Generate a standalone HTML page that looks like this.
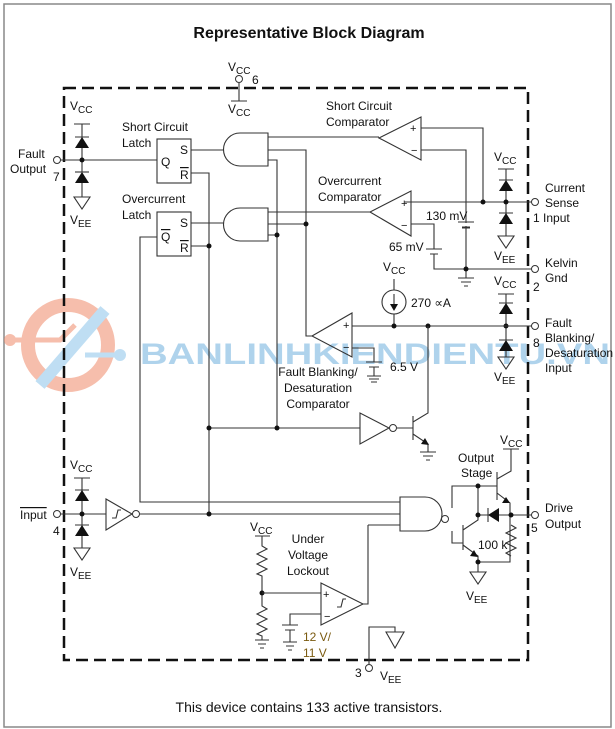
<!DOCTYPE html>
<html><head><meta charset="utf-8"><style>
html,body{margin:0;padding:0;background:#fff;}
svg{display:block;}
text{font-family:"Liberation Sans",sans-serif;font-size:12px;fill:#111;}
.w{stroke:#333;stroke-width:1.1;fill:none;}
.d{fill:#111;}
</style></head><body>
<svg width="615" height="729" viewBox="0 0 615 729" xmlns="http://www.w3.org/2000/svg">
<rect x="4" y="4" width="607" height="723" fill="#fff" stroke="#888" stroke-width="1.5"/>
<text x="309" y="38" text-anchor="middle" style="font-size:16px;font-weight:bold">Representative Block Diagram</text>

<!-- watermark -->
<g opacity="0.55">
<circle cx="68" cy="345" r="40" fill="none" stroke="#f08a6a" stroke-width="14"/>
<path d="M40 385 L105 310" stroke="#8cc4ea" stroke-width="12"/>
<path d="M10 340 H60 L75 325" stroke="#f08a6a" stroke-width="5" fill="none"/>
<circle cx="10" cy="340" r="6" fill="#f08a6a"/>
<path d="M85 355 H120" stroke="#8cc4ea" stroke-width="5"/>
<circle cx="120" cy="355" r="6" fill="#8cc4ea"/>
<text x="140" y="364" textLength="470" lengthAdjust="spacingAndGlyphs" style="font-size:30px;font-weight:bold;fill:#6fb0de">BANLINHKIENDIENTU.VN</text>
</g>

<!-- dashed box -->
<rect x="64" y="88" width="464" height="572" fill="none" stroke="#111" stroke-width="2.5" stroke-dasharray="12,6"/>

<!-- pin 6 -->
<text x="228" y="71">V<tspan dy="3" style="font-size:10px">CC</tspan></text>
<circle cx="239" cy="79" r="3.5" fill="#fff" stroke="#333"/>
<text x="252" y="84">6</text>
<path class="w" d="M239 83 V101 M231 101 H247"/>
<text x="228" y="113">V<tspan dy="3" style="font-size:10px">CC</tspan></text>

<!-- Fault output pin 7 -->
<text x="18" y="158">Fault</text><text x="10" y="173">Output</text><text x="53" y="181">7</text>
<circle cx="57" cy="160" r="3.5" fill="#fff" stroke="#333"/>
<text x="70" y="110">V<tspan dy="3" style="font-size:10px">CC</tspan></text>
<path class="w" d="M74 124 H90 M82 124 V172 M60 160 H157 M82 182 V197 M75 137 H89"/>
<path class="d" d="M82 137 L75 148 H89 Z"/>
<path class="w" d="M75 172 H89"/><path class="d" d="M82 172 L75 183 H89 Z"/>
<path class="w" d="M74 197 H90 L82 209 Z"/>
<circle class="d" cx="82" cy="160" r="2.5"/>
<text x="70" y="224">V<tspan dy="3" style="font-size:10px">EE</tspan></text>

<!-- latches -->
<text x="122" y="131">Short Circuit</text><text x="122" y="147">Latch</text>
<rect class="w" x="157" y="139" width="34" height="44"/>
<text x="180" y="154">S</text><text x="161" y="166">Q</text><text x="180" y="179" style="text-decoration:overline">R</text>
<text x="122" y="203">Overcurrent</text><text x="122" y="219">Latch</text>
<rect class="w" x="157" y="212" width="34" height="44"/>
<text x="180" y="227">S</text><text x="161" y="241" style="text-decoration:overline">Q</text><text x="180" y="252" style="text-decoration:overline">R</text>

<!-- AND gates -->
<path class="w" d="M240 133 H268 V166 H240 A16.5 16.5 0 0 1 240 133 Z"/>
<path class="w" d="M240 208 H268 V241 H240 A16.5 16.5 0 0 1 240 208 Z"/>
<path class="w" d="M191 150 H224 M191 223 H224"/>
<path class="w" d="M191 173 H209 V514 M191 246 H209"/>
<circle class="d" cx="209" cy="246" r="2.5"/>
<path class="w" d="M157 237 H140 V502 H400"/>
<path class="w" d="M268 137 H379 M268 150 H306 V336 H312 M268 160 H277 V428"/>
<path class="w" d="M268 212 H370 M268 224 H306 M268 235 H277"/>
<circle class="d" cx="306" cy="224" r="2.5"/><circle class="d" cx="277" cy="235" r="2.5"/>

<!-- SC comparator -->
<text x="326" y="110">Short Circuit</text><text x="326" y="126">Comparator</text>
<path class="w" d="M421 117 V160 L379 138 Z"/>
<text x="410" y="132" style="font-size:11px">+</text><text x="411" y="154" style="font-size:11px">−</text>
<path class="w" d="M421 128 H483 V202 M421 150 H466 V269"/>
<!-- OC comparator -->
<text x="318" y="185">Overcurrent</text><text x="318" y="201">Comparator</text>
<path class="w" d="M411 191 V236 L370 212 Z"/>
<text x="401" y="207" style="font-size:11px">+</text><text x="401" y="229" style="font-size:11px">−</text>
<path class="w" d="M404 202 H532 M411 224 H434 V249 M426 249 H442 M430 254 H438 M434 254 V269 H532"/>
<path class="w" d="M459 222 H473 M462 227 H470" fill="#fff"/>
<rect x="458" y="223" width="16" height="3" fill="#fff"/>
<path class="w" d="M458 222 H474 M462 228 H470"/>
<text x="426" y="220">130 mV</text><text x="389" y="251">65 mV</text>
<path class="w" d="M466 269 V278 M458 278 H474 M461 282 H471 M464 286 H468"/>
<circle class="d" cx="483" cy="202" r="2.5"/><circle class="d" cx="466" cy="269" r="2.5"/>

<!-- current sense diodes -->
<text x="494" y="161">V<tspan dy="3" style="font-size:10px">CC</tspan></text>
<path class="w" d="M498 169 H514 M506 169 V236 M499 180 H513 M499 213 H513 M498 236 H514 L506 248 Z"/>
<path class="d" d="M506 180 L499 191 H513 Z M506 213 L499 224 H513 Z"/>
<circle class="d" cx="506" cy="202" r="2.5"/>
<text x="494" y="260">V<tspan dy="3" style="font-size:10px">EE</tspan></text>
<circle cx="535" cy="202" r="3.5" fill="#fff" stroke="#333"/>
<text x="545" y="192">Current</text><text x="545" y="207">Sense</text><text x="533" y="222">1 Input</text>
<circle cx="535" cy="269" r="3.5" fill="#fff" stroke="#333"/>
<text x="545" y="267">Kelvin</text><text x="545" y="282">Gnd</text><text x="533" y="291">2</text>

<!-- FB diodes -->
<text x="494" y="285">V<tspan dy="3" style="font-size:10px">CC</tspan></text>
<path class="w" d="M498 294 H514 M506 294 V357 M499 303 H513 M499 340 H513 M498 357 H514 L506 369 Z"/>
<path class="d" d="M506 303 L499 314 H513 Z M506 340 L499 351 H513 Z"/>
<circle class="d" cx="506" cy="326" r="2.5"/>
<text x="494" y="381">V<tspan dy="3" style="font-size:10px">EE</tspan></text>
<circle cx="535" cy="326" r="3.5" fill="#fff" stroke="#333"/>
<text x="545" y="327">Fault</text><text x="545" y="342">Blanking/</text><text x="545" y="357">Desaturation</text><text x="545" y="372">Input</text>
<text x="533" y="347">8</text>

<!-- FB comparator & current source -->
<path class="w" d="M352 313 V357 L312 336 Z"/>
<text x="343" y="329" style="font-size:11px">+</text><text x="343" y="351" style="font-size:11px">−</text>
<path class="w" d="M352 326 H532 M352 348 H374 V362 M366 362 H382 M369 367 H379 M374 367 V376 M367 376 H381 M369 379 H379 M371 382 H377"/>
<text x="390" y="371">6.5 V</text>
<text x="383" y="271">V<tspan dy="3" style="font-size:10px">CC</tspan></text>
<path class="w" d="M394 279 V290 M394 314 V326"/>
<circle class="w" cx="394" cy="302" r="12"/>
<path class="w" d="M394 294 V308"/><path class="d" d="M394 311 L390 304 H398 Z"/>
<text x="411" y="307">270 ∝A</text>
<circle class="d" cx="394" cy="326" r="2.5"/><circle class="d" cx="428" cy="326" r="2.5"/>
<text x="318" y="376" text-anchor="middle">Fault Blanking/</text>
<text x="318" y="392" text-anchor="middle">Desaturation</text>
<text x="318" y="408" text-anchor="middle">Comparator</text>

<!-- inverter + transistor -->
<path class="w" d="M209 428 H360"/>
<circle class="d" cx="209" cy="428" r="2.5"/><circle class="d" cx="277" cy="428" r="2.5"/>
<path class="w" d="M360 413 V444 L389 428 Z"/><circle cx="393" cy="428" r="3.5" fill="#fff" stroke="#333"/>
<path class="w" d="M397 428 H413 M413 416 V440 M413 422 L428 413 V326 M413 434 L428 444 V452 M420 452 H436 M423 456 H433 M426 460 H430"/>
<path class="d" d="M429 445 L421 444 L425 438 Z"/>

<!-- input pin 4 -->
<text x="20" y="519" style="text-decoration:overline">Input</text><text x="53" y="535">4</text>
<circle cx="57" cy="514" r="3.5" fill="#fff" stroke="#333"/>
<text x="70" y="469">V<tspan dy="3" style="font-size:10px">CC</tspan></text>
<path class="w" d="M74 478 H90 M82 478 V548 M75 490 H89 M75 525 H89 M74 548 H90 L82 560 Z M60 514 H106"/>
<path class="d" d="M82 490 L75 501 H89 Z M82 525 L75 536 H89 Z"/>
<circle class="d" cx="82" cy="514" r="2.5"/>
<text x="70" y="576">V<tspan dy="3" style="font-size:10px">EE</tspan></text>
<path class="w" d="M106 499 V530 L132 514 Z"/><circle cx="136" cy="514" r="3.5" fill="#fff" stroke="#333"/>
<path class="w" d="M112 518 H116 L118 510 H121" stroke-width="0.9"/>
<path class="w" d="M140 514 H400"/>
<circle class="d" cx="209" cy="514" r="2.5"/>

<!-- NAND -->
<path class="w" d="M400 497 H425 A17 17 0 0 1 425 531 H400 Z"/>
<circle cx="445" cy="519" r="3.5" fill="#fff" stroke="#333"/>
<path class="w" d="M368 525 H400"/>

<!-- output stage -->
<text x="458" y="462">Output</text><text x="461" y="477">Stage</text>
<text x="500" y="444">V<tspan dy="3" style="font-size:10px">CC</tspan></text>
<path class="w" d="M503 449 H519 M511 449 V471 L497 479 M497 472 V500 M497 493 L510 503 V562 H478 M452 508 V486 H497 M478 486 V520 L463 530 M452 531 V543 H463 M463 525 V550 M463 545 L478 556 V572 M478 515 H511 M511 515 H532"/>
<path class="d" d="M510 503 L502 503 L506 497 Z M478 557 L470 556 L474 550 Z"/>
<path class="w" d="M488 508 V522"/><path class="d" d="M488 515 L499 508 V522 Z"/>
<path class="w" d="M511 525 L516 528 L506 533 L516 538 L506 543 L516 548 L506 553 L511 556"/>
<circle class="d" cx="478" cy="486" r="2.5"/><circle class="d" cx="478" cy="515" r="2.5"/><circle class="d" cx="511" cy="515" r="2.5"/><circle class="d" cx="478" cy="562" r="2.5"/>
<path class="w" d="M470 572 H486 L478 584 Z"/>
<text x="466" y="600">V<tspan dy="3" style="font-size:10px">EE</tspan></text>
<text x="478" y="549">100 k</text>
<circle cx="535" cy="515" r="3.5" fill="#fff" stroke="#333"/>
<text x="545" y="512">Drive</text><text x="545" y="528">Output</text><text x="531" y="532">5</text>

<!-- UVLO -->
<text x="250" y="531">V<tspan dy="3" style="font-size:10px">CC</tspan></text>
<path class="w" d="M255 536 H270 M262 536 V546 L267 549 L257 554 L267 559 L257 564 L267 569 L257 574 L262 576 V606 L267 609 L257 614 L267 619 L257 624 L267 629 L257 634 L262 636 V640 M255 640 H269 M258 644 H266 M260 648 H264"/>
<circle class="d" cx="262" cy="593" r="2.5"/>
<path class="w" d="M262 593 H321"/>
<text x="308" y="543" text-anchor="middle">Under</text><text x="308" y="559" text-anchor="middle">Voltage</text><text x="308" y="575" text-anchor="middle">Lockout</text>
<path class="w" d="M321 583 V625 L363 604 Z M363 604 H368 V525"/>
<text x="323" y="598" style="font-size:11px">+</text><text x="324" y="620" style="font-size:11px">−</text>
<path class="w" d="M337 607 H341 L343 599 H346" stroke-width="0.9"/>
<path class="w" d="M321 614 H290 V625 M282 625 H298 M285 630 H295 M290 630 V642 M283 642 H297 M286 646 H294 M288 650 H292"/>
<text x="303" y="641" style="fill:#7a5a10">12 V/</text><text x="303" y="657" style="fill:#7a5a10">11 V</text>

<!-- pin 3 -->
<path class="w" d="M369 664 V627 H395 V632 M386 632 H404 L395 648 Z"/>
<circle cx="369" cy="668" r="3.5" fill="#fff" stroke="#333"/>
<text x="355" y="677">3</text><text x="380" y="680">V<tspan dy="3" style="font-size:10px">EE</tspan></text>

<text x="309" y="712" text-anchor="middle" style="font-size:14px">This device contains 133 active transistors.</text>
</svg>
</body></html>
